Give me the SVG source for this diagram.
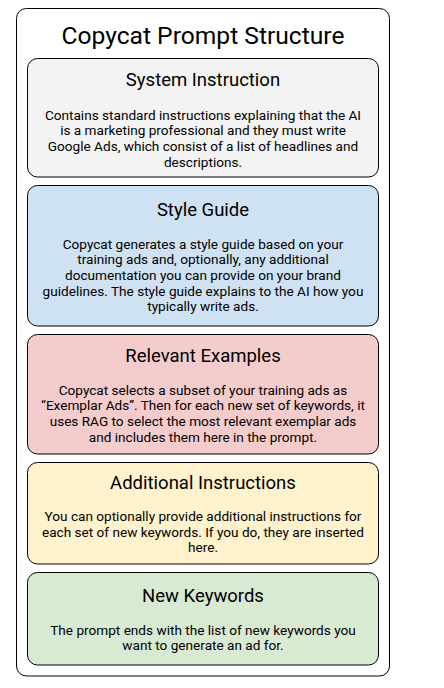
<svg xmlns="http://www.w3.org/2000/svg" width="444" height="688" viewBox="0 0 444 688">
<style>
.box{stroke:#000;stroke-width:1}
.t{font-family:Roboto,"Liberation Sans",sans-serif;fill:#000;text-anchor:middle}
.title{font-size:24.6px}
.h{font-size:18.5px}
.b{font-size:13.6px}
</style>
<rect width="444" height="688" fill="#fff"/>
<g id="frame">
<rect x="16.5" y="8.5" width="373" height="667.5" rx="10" fill="#fff" stroke="#000" stroke-width="1"/>
<text class="t title" x="203" y="43.5">Copycat Prompt Structure</text>
</g>
<g id="system-instruction">
<rect class="box" x="27.5" y="58.5" width="351" height="118.5" rx="10" fill="#f3f3f3"/>
<text class="t h" x="203" y="86">System Instruction</text>
<text class="t b" x="203" y="119.5">Contains standard instructions explaining that the AI</text>
<text class="t b" x="203" y="135.3">is a marketing professional and they must write</text>
<text class="t b" x="203" y="151.1">Google Ads, which consist of a list of headlines and</text>
<text class="t b" x="203" y="166.9">descriptions.</text>
</g>
<g id="style-guide">
<rect class="box" x="27.5" y="185.5" width="351" height="140.5" rx="10" fill="#cfe2f3"/>
<text class="t h" x="203" y="215.5">Style Guide</text>
<text class="t b" x="203" y="248.5">Copycat generates a style guide based on your</text>
<text class="t b" x="203" y="264.2">training ads and, optionally, any additional</text>
<text class="t b" x="203" y="279.9">documentation you can provide on your brand</text>
<text class="t b" x="203" y="295.6">guidelines. The style guide explains to the AI how you</text>
<text class="t b" x="203" y="311.3">typically write ads.</text>
</g>
<g id="relevant-examples">
<rect class="box" x="27.5" y="334.5" width="351" height="119.5" rx="10" fill="#f4cccc"/>
<text class="t h" x="203" y="362">Relevant Examples</text>
<text class="t b" x="203" y="394.5">Copycat selects a subset of your training ads as</text>
<text class="t b" x="203" y="410.3">“Exemplar Ads”. Then for each new set of keywords, it</text>
<text class="t b" x="203" y="426.1">uses RAG to select the most relevant exemplar ads</text>
<text class="t b" x="203" y="441.9">and includes them here in the prompt.</text>
</g>
<g id="additional-instructions">
<rect class="box" x="27.5" y="462.5" width="351" height="101.5" rx="10" fill="#fff2cc"/>
<text class="t h" x="203" y="488.5">Additional Instructions</text>
<text class="t b" x="203" y="521">You can optionally provide additional instructions for</text>
<text class="t b" x="203" y="536.7">each set of new keywords. If you do, they are inserted</text>
<text class="t b" x="203" y="552.4">here.</text>
</g>
<g id="new-keywords">
<rect class="box" x="27.5" y="572.5" width="351" height="92.5" rx="10" fill="#d9ead3"/>
<text class="t h" x="203" y="602">New Keywords</text>
<text class="t b" x="203" y="634.5">The prompt ends with the list of new keywords you</text>
<text class="t b" x="203" y="650.2">want to generate an ad for.</text>
</g>
<g id="connectors"></g>
</svg>
